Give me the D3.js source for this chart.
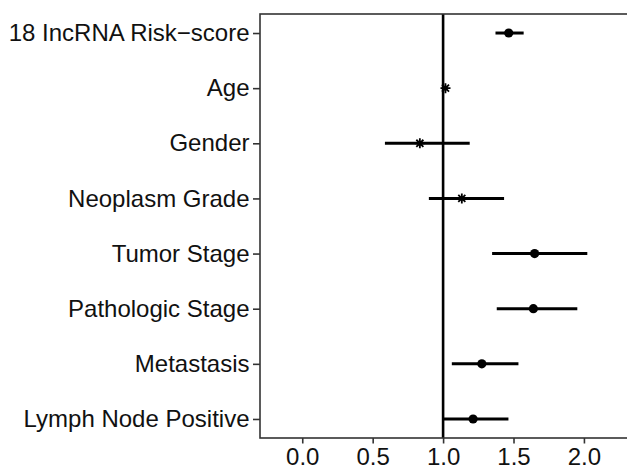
<!DOCTYPE html>
<html>
<head>
<meta charset="utf-8">
<script src="https://cdn.jsdelivr.net/npm/d3@7"></script>
<style>
  body { margin: 0; background: #fff; }
  text { font-family: "Liberation Sans", Arial, sans-serif; }
</style>
</head>
<body>
<script>
// Chart size matches the window.
var svg_width = 627;
var svg_height = 469;

// Panel edges. The right side runs off the picture, as in the original.
var panel = { left: 260, top: 14, right: 629, bottom: 438 };

// Data: hazard ratio and its interval per variable.
var variables = ["18 IncRNA Risk\u2212score", "Age", "Gender", "Neoplasm Grade",
                 "Tumor Stage", "Pathologic Stage", "Metastasis", "Lymph Node Positive"];
var hazard = [1.466, 1.017, 0.835, 1.133, 1.650, 1.641, 1.275, 1.213];
var lower  = [1.372, 1.005, 0.587, 0.899, 1.348, 1.381, 1.062, 1.000];
var upper  = [1.572, 1.030, 1.189, 1.433, 2.024, 1.953, 1.535, 1.464];
// Which points are drawn as an asterisk (not significant) instead of a dot.
var asterisk = [false, true, true, true, false, false, false, false];
var x_ticks = [0.0, 0.5, 1.0, 1.5, 2.0];

var rows = variables.map(function (name, i) {
    return { name: name, hr: hazard[i], lo: lower[i], hi: upper[i], star: asterisk[i] };
});

var svg = d3.select("body")
    .append("svg")
    .attr("width", svg_width)
    .attr("height", svg_height);

var x = d3.scaleLinear()
    .domain([-0.3, 2.32])
    .range([panel.left, panel.right]);

var y = d3.scalePoint()
    .domain(variables)
    .range([panel.top, panel.bottom])
    .padding(0.345);

// Reference line at HR = 1.
svg.append("line")
    .attr("x1", x(1)).attr("x2", x(1))
    .attr("y1", panel.top).attr("y2", panel.bottom)
    .attr("stroke", "#000")
    .attr("stroke-width", 2.6);

// Confidence intervals.
svg.append("g")
    .selectAll("line")
    .data(rows)
    .enter()
    .append("line")
    .attr("x1", function (d) { return x(d.lo); })
    .attr("x2", function (d) { return x(d.hi); })
    .attr("y1", function (d) { return y(d.name); })
    .attr("y2", function (d) { return y(d.name); })
    .attr("stroke", "#000")
    .attr("stroke-width", 3);

// Filled dots.
svg.append("g")
    .selectAll("circle")
    .data(rows.filter(function (d) { return !d.star; }))
    .enter()
    .append("circle")
    .attr("cx", function (d) { return x(d.hr); })
    .attr("cy", function (d) { return y(d.name); })
    .attr("r", 4.6)
    .attr("fill", "#000");

// Asterisks, like ggplot shape 8 (a plus and a cross on top of each other).
svg.append("g")
    .selectAll("path")
    .data(rows.filter(function (d) { return d.star; }))
    .enter()
    .append("path")
    .attr("d", function () {
        var s = 5, c = s * 0.707;
        return "M" + (-s) + ",0H" + s + "M0," + (-s) + "V" + s +
               "M" + (-c) + "," + (-c) + "L" + c + "," + c +
               "M" + (-c) + "," + c + "L" + c + "," + (-c);
    })
    .attr("transform", function (d) { return "translate(" + x(d.hr) + "," + y(d.name) + ")"; })
    .attr("fill", "none")
    .attr("stroke", "#000")
    .attr("stroke-width", 1.8);

// Panel border.
svg.append("rect")
    .attr("x", panel.left)
    .attr("y", panel.top)
    .attr("width", panel.right - panel.left)
    .attr("height", panel.bottom - panel.top)
    .attr("fill", "none")
    .attr("stroke", "#333")
    .attr("stroke-width", 1.6);

// Bottom axis.
var x_axis = svg.append("g")
    .attr("transform", "translate(0," + panel.bottom + ")")
    .call(d3.axisBottom(x)
        .tickValues(x_ticks)
        .tickFormat(d3.format(".1f"))
        .tickSize(5.5)
        .tickPadding(4));
x_axis.select(".domain").remove();
x_axis.selectAll(".tick line").attr("stroke", "#333").attr("stroke-width", 1.6);
x_axis.selectAll(".tick text")
    .attr("font-size", "24px")
    .attr("font-family", "Liberation Sans, Arial, sans-serif")
    .attr("fill", "#111")
    .attr("dy", "0.72em");

// Left axis.
var y_axis = svg.append("g")
    .attr("transform", "translate(" + panel.left + ",0)")
    .call(d3.axisLeft(y).tickSize(7).tickPadding(3.5));
y_axis.select(".domain").remove();
y_axis.selectAll(".tick line").attr("stroke", "#333").attr("stroke-width", 1.6);
y_axis.selectAll(".tick text")
    .attr("font-size", "24px")
    .attr("font-family", "Liberation Sans, Arial, sans-serif")
    .attr("fill", "#111");
</script>
</body>
</html>
